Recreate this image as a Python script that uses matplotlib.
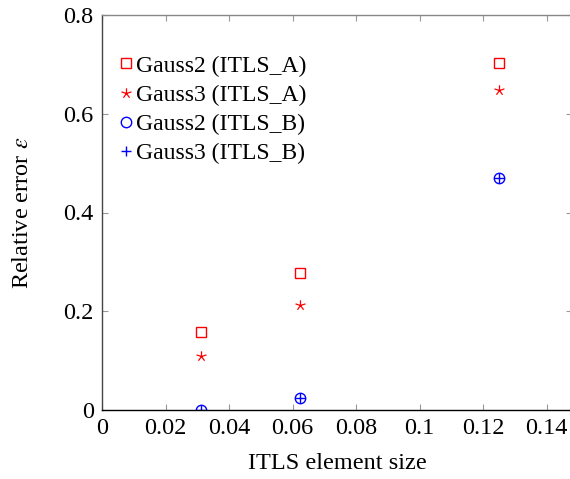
import matplotlib
matplotlib.use("Agg")
import matplotlib.pyplot as plt
from matplotlib.path import Path
import numpy as np

plt.rcParams['font.family'] = ['Liberation Serif', 'DejaVu Serif']
plt.rcParams['mathtext.fontset'] = 'stix'

# element sizes and relative errors
element_size = [0.03125, 0.0625, 0.125]
gauss2_a = [0.157, 0.278, 0.702]
gauss3_a = [0.109, 0.213, 0.648]
gauss2_b = [0.0005, 0.025, 0.469]
gauss3_b = [0.0005, 0.025, 0.469]

x_ticks = [0, 0.02, 0.04, 0.06, 0.08, 0.1, 0.12, 0.14]
x_tick_labels = ['0', '0.02', '0.04', '0.06', '0.08', '0.1', '0.12', '0.14']
y_ticks = [0, 0.2, 0.4, 0.6, 0.8]
y_tick_labels = ['0', '0.2', '0.4', '0.6', '0.8']

# five-spoke star marker (spokes drawn from the centre)
angles = np.pi / 2 + np.arange(5) * 2 * np.pi / 5
verts, codes = [], []
for a in angles:
    verts += [(0, 0), (np.cos(a), np.sin(a))]
    codes += [Path.MOVETO, Path.LINETO]
star_spokes = Path(verts, codes)

W, H = 570, 479
fig = plt.figure(figsize=(W / 100, H / 100), dpi=100)
ax = fig.add_axes([102 / W, 69 / H, 470 / W, 395 / H])

ax.plot(element_size, gauss2_a, linestyle='none', marker='s', markersize=7.5,
        markerfacecolor='none', markeredgecolor='red', markeredgewidth=1.0,
        label='Gauss2 (ITLS_A)')
ax.plot(element_size, gauss3_a, linestyle='none', marker=star_spokes, markersize=7.5,
        markerfacecolor='none', markeredgecolor='red', markeredgewidth=0.9,
        label='Gauss3 (ITLS_A)')
ax.plot(element_size, gauss2_b, linestyle='none', marker='o', markersize=7.5,
        markerfacecolor='none', markeredgecolor='blue', markeredgewidth=1.0,
        label='Gauss2 (ITLS_B)')
ax.plot(element_size, gauss3_b, linestyle='none', marker='+', markersize=7.5,
        markeredgecolor='blue', markeredgewidth=1.0,
        label='Gauss3 (ITLS_B)')

ax.set_xlim(0, 0.148)
ax.set_ylim(0, 0.8)
ax.set_xticks(x_ticks)
ax.set_xticklabels(x_tick_labels)
ax.set_yticks(y_ticks)
ax.set_yticklabels(y_tick_labels)

ax.tick_params(axis='both', direction='in', length=4.5, width=0.8,
               color='#999999', labelsize=17.5, pad=6, top=True, right=True)

ax.spines['left'].set_color('#444444')
ax.spines['bottom'].set_color('black')
ax.spines['top'].set_color('#888888')
ax.spines['right'].set_color('#888888')
for s in ax.spines.values():
    s.set_linewidth(1.0)

ax.set_xlabel('ITLS element size', fontsize=17.5, labelpad=10)
ax.set_ylabel(r'Relative error $\epsilon$', fontsize=17.5, labelpad=22)

ax.legend(loc='upper left', bbox_to_anchor=(0.0, 0.94), frameon=False,
          fontsize=17, handlelength=0.6, handletextpad=0.15,
          labelspacing=0.32, borderaxespad=0.3)

fig.savefig('out.png', dpi=100)
